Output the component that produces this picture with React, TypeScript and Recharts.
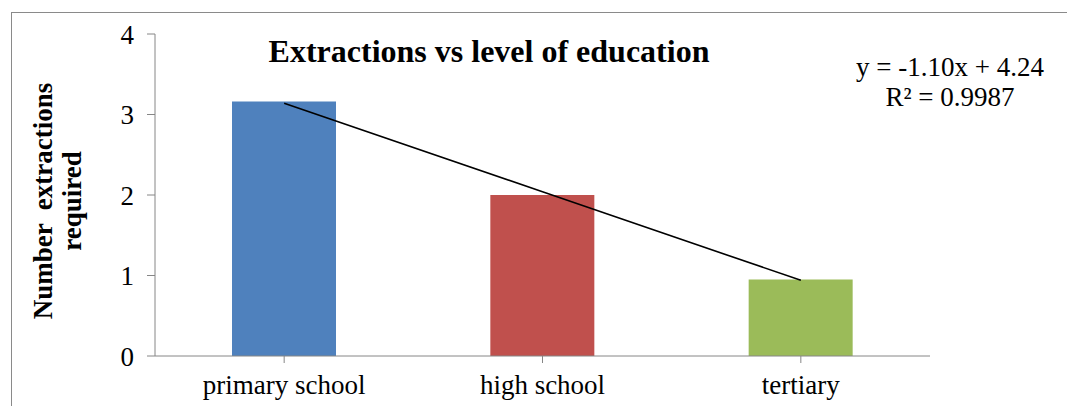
import React from 'react';
import { ComposedChart, Bar, Line, XAxis, YAxis, Cell, Label } from 'recharts';

// values
const categories = ['primary school', 'high school', 'tertiary'];
const extractions = [3.16, 2.0, 0.95];
const barColors = ['#4F81BD', '#C0504D', '#9BBB59'];
const yTicks = [0, 1, 2, 3, 4];

// linear trendline shown in the chart: y = -1.10x + 4.24
const slope = -1.1;
const intercept = 4.24;
const trendText = ['y = -1.10x + 4.24', 'R² = 0.9987'];

const data = categories.map((name, i) => ({
  name,
  value: extractions[i],
  trend: slope * (i + 1) + intercept
}));

const font = '"Liberation Serif", "Times New Roman", serif';
const axisColor = '#868686';

const YLabel = (props: any) => {
  const { viewBox } = props;
  const cx = 57;
  const cy = viewBox.y + viewBox.height / 2 + 6;
  return (
    <text
      x={cx}
      y={cy}
      transform={`rotate(-90, ${cx}, ${cy})`}
      textAnchor="middle"
      fontFamily={font}
      fontWeight="bold"
      fontSize={27}
      fill="#000"
      style={{ whiteSpace: 'pre' }}
    >
      <tspan x={cx} dy={-5}>Number  extractions</tspan>
      <tspan x={cx} dy={29}>required</tspan>
    </text>
  );
};

export default function App() {
  return (
    <div style={{ position: 'absolute', left: 0, top: 0, width: 1067, height: 406, background: '#fff' }}>
      <div
        style={{
          position: 'absolute',
          left: 11,
          top: 12,
          width: 1056,
          height: 394,
          borderLeft: '1px solid #8a8a8a',
          borderTop: '1px solid #8a8a8a'
        }}
      />
      <ComposedChart
        width={1067}
        height={406}
        data={data}
        margin={{ top: 34, right: 137, left: 95, bottom: 20 }}
        style={{ position: 'absolute', left: 0, top: 0 }}
      >
        <XAxis
          dataKey="name"
          height={30}
          stroke={axisColor}
          tickSize={7}
          tickMargin={12}
          tick={{ fill: '#000', fontSize: 27, fontFamily: font }}
        />
        <YAxis
          width={60}
          domain={[0, 4]}
          ticks={yTicks}
          stroke={axisColor}
          tickSize={8}
          tickMargin={13}
          tick={{ fill: '#000', fontSize: 27, fontFamily: font }}
        >
          <Label content={<YLabel />} />
        </YAxis>
        <Bar dataKey="value" barSize={104} isAnimationActive={false}>
          {data.map((d, i) => (
            <Cell key={d.name} fill={barColors[i]} />
          ))}
        </Bar>
        <Line
          dataKey="trend"
          type="linear"
          stroke="#000"
          strokeWidth={1.6}
          dot={false}
          activeDot={false}
          isAnimationActive={false}
        />
      </ComposedChart>
      <div
        style={{
          position: 'absolute',
          left: 189,
          width: 600,
          top: 33,
          textAlign: 'center',
          fontFamily: font,
          fontWeight: 'bold',
          fontSize: 32,
          whiteSpace: 'nowrap'
        }}
      >
        Extractions vs level of education
      </div>
      <div
        style={{
          position: 'absolute',
          left: 850,
          width: 200,
          top: 52,
          textAlign: 'center',
          fontFamily: font,
          fontSize: 27,
          lineHeight: '30px',
          whiteSpace: 'nowrap'
        }}
      >
        {trendText.map((t) => (
          <div key={t}>{t}</div>
        ))}
      </div>
    </div>
  );
}
